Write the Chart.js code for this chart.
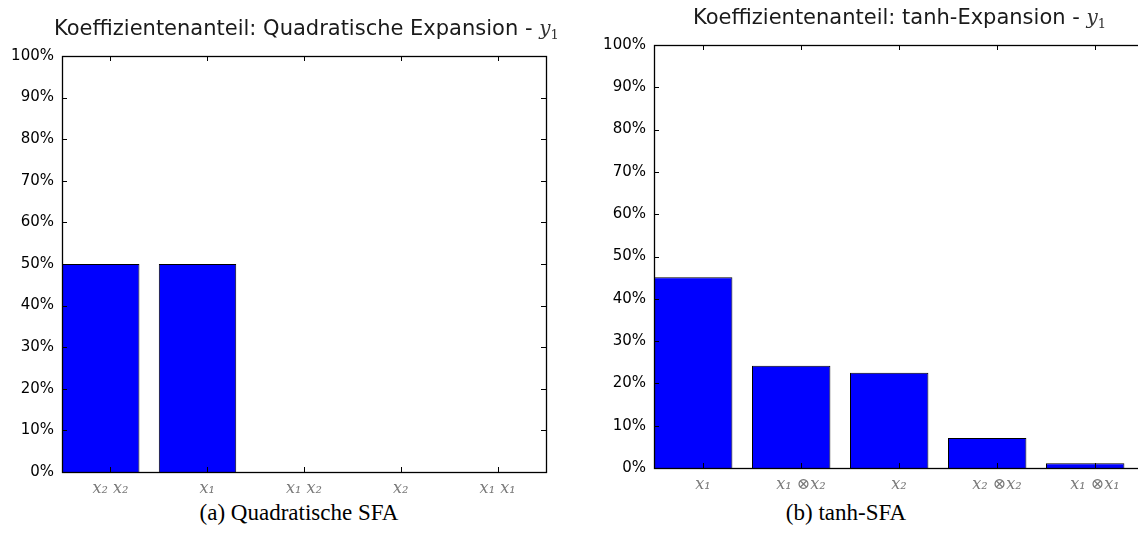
<!DOCTYPE html>
<html><head><meta charset="utf-8">
<script src="https://cdn.jsdelivr.net/npm/chart.js@4.4.1/dist/chart.umd.min.js"></script>
<style>
html,body{margin:0;padding:0;background:#fff;width:1138px;height:534px;overflow:hidden;position:relative}
.box{position:absolute;top:0}
.title{position:absolute;font-family:"DejaVu Sans";font-size:21px;color:#1a1a1a;white-space:nowrap;line-height:1}
.title .m{font-family:"DejaVu Serif";font-style:italic;font-size:20px;color:#333}
.title sub{font-family:"DejaVu Serif";font-style:normal;font-size:13px;vertical-align:-4px;color:#333}
.cap{position:absolute;font-family:"Liberation Serif";font-size:23px;color:#000;white-space:nowrap;transform:translateX(-50%);line-height:1}
</style></head>
<body>
<div class="box" style="left:0;width:570px;height:500px"><canvas id="c1" width="570" height="500"></canvas></div>
<div class="box" style="left:570px;width:600px;height:500px"><canvas id="c2" width="600" height="500"></canvas></div>
<div class="title" id="t1" style="left:54px;top:18px">Koeffizientenanteil: Quadratische Expansion - <span class="m">y</span><sub>1</sub></div>
<div class="title" id="t2" style="left:693px;top:7px">Koeffizientenanteil: tanh-Expansion - <span class="m">y</span><sub>1</sub></div>
<div class="cap" style="left:299px;top:501px">(a) Quadratische SFA</div>
<div class="cap" style="left:846px;top:501px">(b) tanh-SFA</div>
<script>
// ---- data ----
const leftCategories = ["x\u2082 x\u2082", "x\u2081", "x\u2081 x\u2082", "x\u2082", "x\u2081 x\u2081"];
const leftValues = [50, 50, 0, 0, 0];
const rightCategories = ["x\u2081", "x\u2081 \u2297x\u2082", "x\u2082", "x\u2082 \u2297x\u2082", "x\u2081 \u2297x\u2081"];
const rightValues = [45.1, 24.2, 22.5, 7.1, 1.1];
const yTickValues = [0, 10, 20, 30, 40, 50, 60, 70, 80, 90, 100];

const frameTicks = {
  id: 'frameTicks',
  afterDatasetsDraw(chart) {
    const {ctx, chartArea: a, scales: {x, y}} = chart;
    ctx.save();
    ctx.strokeStyle = '#000';
    ctx.lineWidth = 1;
    ctx.beginPath();
    y.ticks.forEach(t => {
      const py = Math.round(y.getPixelForValue(t.value)) + 0.5;
      ctx.moveTo(a.left, py); ctx.lineTo(a.left + 5, py);
      ctx.moveTo(a.right, py); ctx.lineTo(a.right - 5, py);
    });
    x.ticks.forEach(t => {
      const px = Math.round(x.getPixelForValue(t.value)) + 0.5;
      ctx.moveTo(px, a.bottom); ctx.lineTo(px, a.bottom - 5);
      ctx.moveTo(px, a.top); ctx.lineTo(px, a.top + 5);
    });
    ctx.stroke();
    ctx.lineWidth = 1.3;
    ctx.strokeRect(Math.round(a.left) + 0.5, Math.round(a.top) + 0.5,
      Math.round(a.right) - Math.round(a.left), Math.round(a.bottom) - Math.round(a.top));
    ctx.restore();
  }
};

function makeChart(id, cats, vals, yWidth, xHeight, pad) {
  const points = vals.map((v, i) => ({x: i + 0.4, y: v}));
  return new Chart(document.getElementById(id), {
    type: 'bar',
    data: {datasets: [{
      data: points,
      backgroundColor: '#0000ff',
      borderColor: '#000',
      borderWidth: 1,
      borderSkipped: 'start',
      categoryPercentage: 0.8,
      barPercentage: 1.0
    }]},
    options: {
      responsive: false,
      animation: false,
      layout: {padding: pad},
      plugins: {legend: {display: false}, tooltip: {enabled: false}, title: {display: false}},
      scales: {
        x: {
          type: 'linear', min: 0, max: cats.length, offset: false,
          grid: {display: false, drawTicks: false}, border: {display: false},
          afterBuildTicks: (s) => { s.ticks = cats.map((c, i) => ({value: i + 0.5})); },
          afterFit: (s) => { s.height = xHeight; },
          ticks: {
            autoSkip: false, maxRotation: 0, padding: 7,
            color: '#7a7a7a',
            font: {family: 'DejaVu Serif', style: 'italic', size: 16},
            callback: (v) => cats[Math.floor(v)]
          }
        },
        y: {
          min: 0, max: 100,
          grid: {display: false, drawTicks: false}, border: {display: false},
          afterBuildTicks: (s) => { s.ticks = yTickValues.map(v => ({value: v})); },
          afterFit: (s) => { s.width = yWidth; },
          ticks: {
            padding: 8, color: '#000',
            font: {family: 'DejaVu Sans', size: 15},
            callback: (v) => v + '%'
          }
        }
      }
    },
    plugins: [frameTicks]
  });
}

makeChart('c1', leftCategories, leftValues, 62, 28, {left: 0, right: 24, top: 56, bottom: 0});
makeChart('c2', rightCategories, rightValues, 84, 32, {left: 0, right: 26, top: 45, bottom: 0});
</script>
</body></html>
